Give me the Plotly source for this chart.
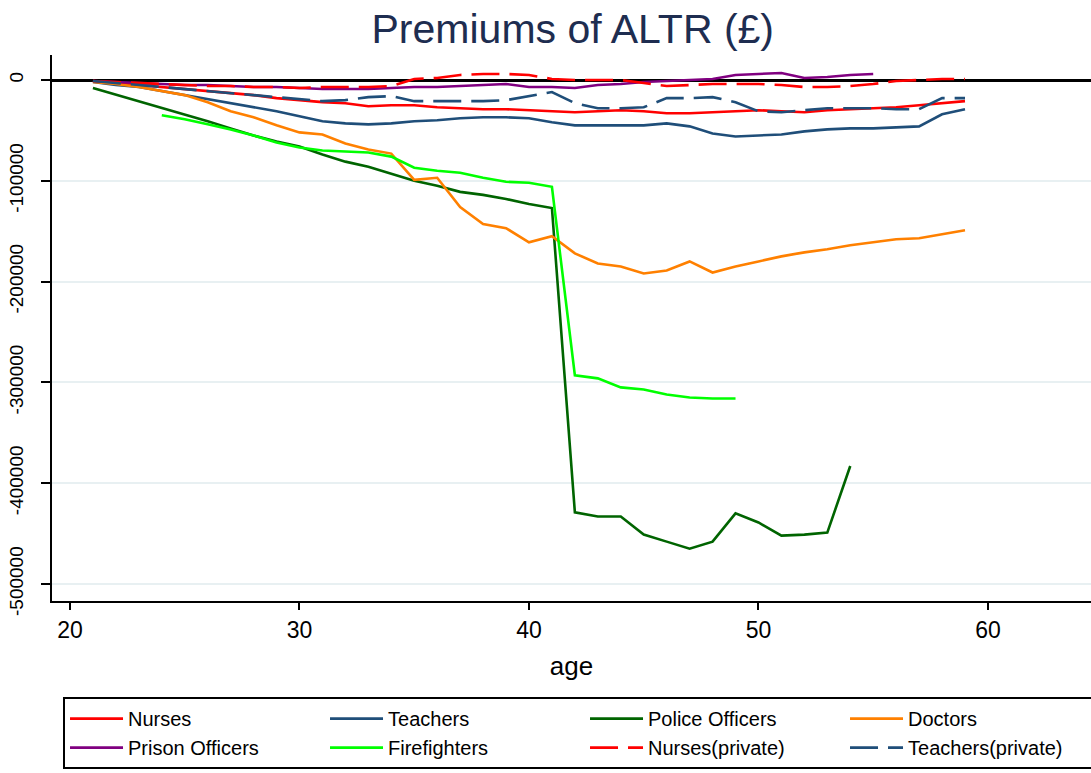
import plotly.graph_objects as go

ages_21_59 = list(range(21, 60))
ages_21_55 = list(range(21, 56))
ages_21_54 = list(range(21, 55))
ages_24_49 = list(range(24, 50))

nurses = [-1000, -3000, -5000, -7000, -9000, -11000, -13000, -15000, -18000, -20000,
          -22000, -23000, -26000, -25000, -25000, -27000, -28000, -29000, -29000, -30000,
          -31000, -32000, -31000, -30000, -31000, -33000, -33000, -32000, -31000, -30000,
          -31000, -32000, -30000, -29000, -28000, -27000, -25000, -23000, -21000]

teachers = [-2000, -5000, -7000, -11000, -15000, -19000, -23000, -27000, -31000, -36000,
            -41000, -43000, -44000, -43000, -41000, -40000, -38000, -37000, -37000, -38000,
            -42000, -45000, -45000, -45000, -45000, -43000, -46000, -53000, -56000, -55000,
            -54000, -51000, -49000, -48000, -48000, -47000, -46000, -34000, -29000]

police = [-8000, -14500, -21000, -27500, -34000, -41000, -48000, -55000, -61000, -66000,
          -74000, -81000, -86000, -93000, -100000, -105000, -111000, -114000, -118000, -123000,
          -127000, -429000, -433000, -433000, -451000, -458000, -465000, -458000, -430000, -439000,
          -452000, -451000, -449000, -383000]

doctors = [-2000, -4000, -7000, -11000, -15000, -22000, -31000, -37000, -45000, -52000,
           -54000, -63000, -69000, -73000, -99000, -97000, -126000, -143000, -147000, -161000,
           -155000, -172000, -182000, -185000, -192000, -189000, -180000, -191000, -185000, -180000,
           -175000, -171000, -168000, -164000, -161000, -158000, -157000, -153000, -149000]

prison = [-1000, -2000, -3000, -4000, -5000, -5000, -6000, -7000, -7000, -8000,
          -9000, -9000, -9000, -8000, -7000, -7000, -6000, -5000, -4000, -7000,
          -7000, -8000, -5000, -4000, -2000, -1000, 0, 1000, 5000, 6000,
          7000, 2000, 3000, 5000, 6000]

firefighters = [-35000, -39000, -44000, -49000, -55000, -62000, -67000, -70000, -71000, -72000,
                -76000, -87000, -90000, -92000, -97000, -101000, -102000, -106000, -293000, -296000,
                -305000, -307000, -312000, -315000, -316000, -316000]

nurses_private = [-1000, -2000, -3000, -4000, -5000, -6000, -6000, -7000, -7000, -8000,
                  -7000, -7000, -7000, -6000, 1000, 2000, 5000, 6000, 6000, 5000,
                  1000, 0, 0, 0, -3000, -6000, -5000, -4000, -4000, -4000,
                  -5000, -7000, -7000, -6000, -4000, -1000, 0, 1000, 1000]

teachers_private = [-1000, -3000, -5000, -7000, -9000, -11000, -13000, -15000, -17000, -19000,
                    -21000, -20000, -17000, -16000, -21000, -21000, -21000, -21000, -20000, -16000,
                    -12000, -23000, -28000, -28000, -27000, -18000, -18000, -17000, -22000, -31000,
                    -32000, -30000, -28000, -28000, -28000, -29000, -29000, -18000, -18000]

y_tickvals = [0, -100000, -200000, -300000, -400000, -500000]
y_ticktext = ["0", "-100000", "-200000", "-300000", "-400000", "-500000"]
x_tickvals = [20, 30, 40, 50, 60]

RED = "#FF0000"
NAVY = "#1F4E79"
DKGREEN = "#006400"
ORANGE = "#FF8000"
PURPLE = "#800080"
LIME = "#00FF00"
DASH = "28px,10px"

series = [
    ("Nurses", ages_21_59, nurses, RED, "solid"),
    ("Teachers", ages_21_59, teachers, NAVY, "solid"),
    ("Police Officers", ages_21_54, police, DKGREEN, "solid"),
    ("Doctors", ages_21_59, doctors, ORANGE, "solid"),
    ("Prison Officers", ages_21_55, prison, PURPLE, "solid"),
    ("Firefighters", ages_24_49, firefighters, LIME, "solid"),
    ("Nurses(private)", ages_21_59, nurses_private, RED, DASH),
    ("Teachers(private)", ages_21_59, teachers_private, NAVY, DASH),
]

FONT = "Liberation Sans, Arial, sans-serif"

fig = go.Figure()
for name, xs, ys, col, dash in series:
    fig.add_trace(go.Scatter(x=xs, y=ys, mode="lines", name=name,
                             line=dict(color=col, width=2.6, dash=dash)))

fig.update_layout(
    width=1091, height=773,
    paper_bgcolor="white", plot_bgcolor="white",
    margin=dict(l=52, r=0, t=55, b=172, autoexpand=False),
    font=dict(family=FONT, color="black"),
    title=dict(text="Premiums of ALTR (£)", x=0.525, xanchor="center", y=0.963, yanchor="middle",
               font=dict(size=41, color="#1E2D50", family=FONT)),
    showlegend=True,
    legend=dict(orientation="h", x=0.0106, xanchor="left", y=-0.176, yanchor="top",
                bordercolor="black", borderwidth=2, bgcolor="white",
                font=dict(size=20, color="black", family=FONT),
                itemwidth=53, entrywidth=192, entrywidthmode="pixels",
                traceorder="normal"),
)

fig.update_xaxes(range=[19.216, 64.49], tickvals=x_tickvals, showgrid=False, zeroline=False,
                 automargin=False,
                 showline=True, linecolor="black", linewidth=2,
                 ticks="outside", ticklen=7, tickwidth=2, tickcolor="black",
                 tickfont=dict(size=23, color="black"),
                 title=dict(text="age", font=dict(size=26, color="black"), standoff=15))

fig.update_yaxes(range=[-516900, 24800], tickvals=y_tickvals, ticktext=y_ticktext,
                 automargin=False, ticklabelstandoff=10,
                 tickangle=-90, showgrid=True, gridcolor="#E8F0F2", gridwidth=2,
                 zeroline=True, zerolinecolor="black", zerolinewidth=3,
                 showline=True, linecolor="black", linewidth=2,
                 ticks="outside", ticklen=9, tickwidth=2, tickcolor="black",
                 tickfont=dict(size=19, color="black"))

fig.write_html("out.html", config={"displayModeBar": False},
               post_script="document.body.style.margin='0';document.body.style.padding='0';")
